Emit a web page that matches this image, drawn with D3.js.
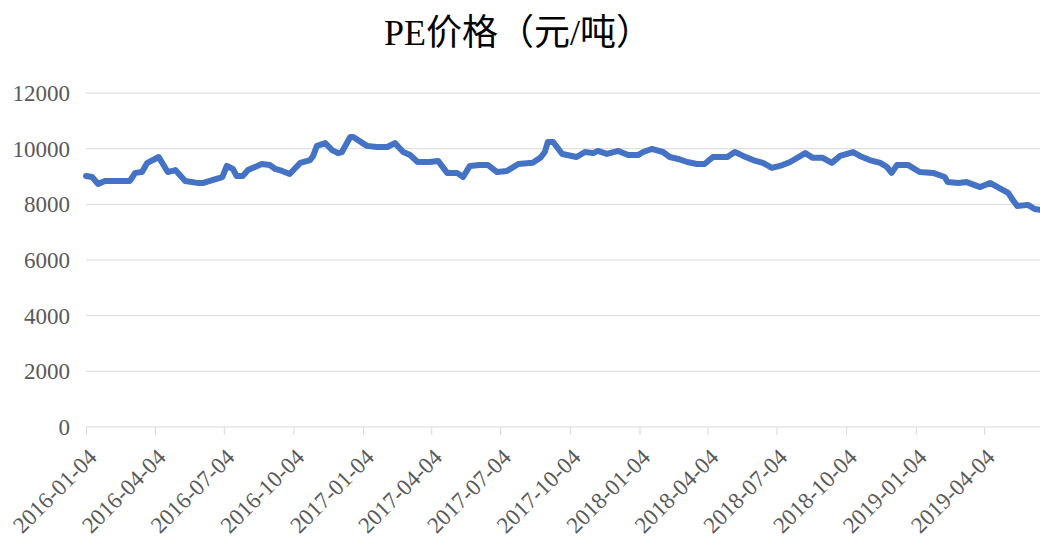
<!DOCTYPE html>
<html>
<head>
<meta charset="utf-8">
<script src="https://cdn.jsdelivr.net/npm/d3@7"></script>
<style>
  body { margin: 0; background: #fff; }
  svg { display: block; }
</style>
</head>
<body>
<svg id="chart" width="1040" height="543"></svg>
<script>
// PE price (yuan / ton)
var dates = [
  "2016-01-04","2016-01-12","2016-01-20","2016-01-29","2016-02-22","2016-03-02","2016-03-09","2016-03-18",
  "2016-03-25","2016-04-04","2016-04-09","2016-04-21","2016-05-01","2016-05-14","2016-05-30","2016-06-07",
  "2016-06-20","2016-07-02","2016-07-08","2016-07-16","2016-07-21","2016-07-29","2016-08-05","2016-08-23",
  "2016-09-03","2016-09-10","2016-09-19","2016-09-29","2016-10-13","2016-10-26","2016-10-30","2016-11-04",
  "2016-11-15","2016-11-24","2016-12-02","2016-12-07","2016-12-18","2016-12-22","2017-01-09","2017-01-22",
  "2017-02-05","2017-02-15","2017-02-26","2017-03-07","2017-03-17","2017-04-02","2017-04-13","2017-04-25",
  "2017-05-08","2017-05-16","2017-05-25","2017-06-07","2017-06-18","2017-06-30","2017-07-13","2017-07-28",
  "2017-08-16","2017-08-26","2017-09-01","2017-09-05","2017-09-12","2017-09-24","2017-10-13","2017-10-24",
  "2017-11-04","2017-11-10","2017-11-22","2017-12-07","2017-12-20","2018-01-02","2018-01-09","2018-01-20",
  "2018-02-04","2018-02-13","2018-02-24","2018-03-08","2018-03-21","2018-03-31","2018-04-11","2018-04-30",
  "2018-05-10","2018-05-21","2018-06-03","2018-06-16","2018-06-28","2018-07-12","2018-07-22","2018-08-11",
  "2018-08-21","2018-09-03","2018-09-15","2018-09-26","2018-10-13","2018-10-22","2018-11-04","2018-11-18",
  "2018-11-27","2018-12-03","2018-12-10","2018-12-25","2019-01-09","2019-01-27","2019-02-11","2019-02-15",
  "2019-03-01","2019-03-12","2019-03-30","2019-04-12","2019-04-22","2019-05-06","2019-05-12","2019-05-18",
  "2019-06-01","2019-06-10","2019-06-17"
];
var prices = [
  9020, 8980, 8730, 8840, 8840, 8840, 9130, 9160,
  9490, 9630, 9700, 9160, 9230, 8840, 8770, 8770,
  8880, 8980, 9380, 9270, 9020, 9020, 9230, 9450,
  9410, 9270, 9200, 9090, 9490, 9590, 9740, 10100,
  10200, 9950, 9840, 9880, 10420, 10420, 10100, 10060,
  10060, 10200, 9880, 9770, 9520, 9520, 9560, 9130,
  9130, 8980, 9380, 9410, 9410, 9160, 9200, 9450,
  9490, 9670, 9880, 10240, 10240, 9810, 9700, 9880,
  9840, 9920, 9810, 9920, 9770, 9770, 9880, 9990,
  9880, 9700, 9630, 9520, 9450, 9450, 9700, 9700,
  9880, 9740, 9590, 9490, 9310, 9410, 9520, 9840,
  9670, 9670, 9490, 9740, 9880, 9740, 9590, 9490,
  9340, 9130, 9410, 9410, 9160, 9130, 8980, 8800,
  8770, 8800, 8620, 8770, 8620, 8410, 8160, 7940,
  7980, 7830, 7800
];
var tickDates = [
  "2016-01-04","2016-04-04","2016-07-04","2016-10-04","2017-01-04","2017-04-04","2017-07-04",
  "2017-10-04","2018-01-04","2018-04-04","2018-07-04","2018-10-04","2019-01-04","2019-04-04"
];
var yTicks = [0, 2000, 4000, 6000, 8000, 10000, 12000];
var title = "PE价格（元/吨）";

var parse = d3.timeParse("%Y-%m-%d");
var fmt = d3.timeFormat("%Y-%m-%d");
var data = dates.map(function(d, i){ return {date: parse(d), value: prices[i]}; });

var svg = d3.select("#chart");
var plotLeft = 86, plotRight = 1040, plotTop = 93, plotBottom = 427;

var x = d3.scaleTime()
    .domain([parse("2016-01-04"), parse("2019-06-17")])
    .range([plotLeft, plotRight]);
var y = d3.scaleLinear()
    .domain([0, 12000])
    .range([plotBottom, plotTop]);

// title
svg.append("text")
    .attr("x", 518)
    .attr("y", 45)
    .attr("text-anchor", "middle")
    .style("font-family", "'Liberation Serif', 'Noto Sans CJK SC', serif")
    .style("font-size", "36px")
    .style("fill", "#000")
    .text(title);

// gridlines
svg.append("g")
    .selectAll("line")
    .data(yTicks.filter(function(t){ return t > 0; }))
    .enter().append("line")
    .attr("x1", plotLeft).attr("x2", plotRight)
    .attr("y1", function(d){ return y(d); })
    .attr("y2", function(d){ return y(d); })
    .attr("stroke", "#d9d9d9")
    .attr("stroke-width", 1);

// y axis labels
var yAxis = d3.axisLeft(y).tickValues(yTicks).tickFormat(d3.format("d")).tickSize(0).tickPadding(16);
var gy = svg.append("g").attr("transform", "translate(" + plotLeft + ",0)").call(yAxis);
gy.select(".domain").remove();
gy.selectAll("text")
    .style("font-family", "'Liberation Serif', serif")
    .style("font-size", "23px")
    .style("fill", "#595959");

// x axis
var xAxis = d3.axisBottom(x)
    .tickValues(tickDates.map(parse))
    .tickFormat(fmt)
    .tickSize(8)
    .tickSizeOuter(0);
var gx = svg.append("g").attr("transform", "translate(0," + plotBottom + ")").call(xAxis);
gx.select(".domain").attr("stroke", "#d9d9d9").attr("d", "M" + plotLeft + ",0H" + plotRight);
gx.selectAll(".tick line").attr("stroke", "#d9d9d9");
gx.selectAll(".tick text")
    .attr("text-anchor", "end")
    .attr("transform", "translate(6,26) rotate(-45)")
    .attr("x", 0).attr("y", 0).attr("dy", "0.35em")
    .style("font-family", "'Liberation Serif', serif")
    .style("font-size", "23px")
    .style("fill", "#595959");

// price line
svg.append("defs").append("clipPath").attr("id", "clip")
    .append("rect").attr("x", plotLeft - 5).attr("y", 0).attr("width", plotRight - plotLeft + 5).attr("height", plotBottom);

var line = d3.line()
    .x(function(d){ return x(d.date); })
    .y(function(d){ return y(d.value); });

svg.append("path")
    .datum(data)
    .attr("clip-path", "url(#clip)")
    .attr("fill", "none")
    .attr("stroke", "#4472C4")
    .attr("stroke-width", 6)
    .attr("stroke-linejoin", "round")
    .attr("stroke-linecap", "round")
    .attr("d", line);
</script>
</body>
</html>
